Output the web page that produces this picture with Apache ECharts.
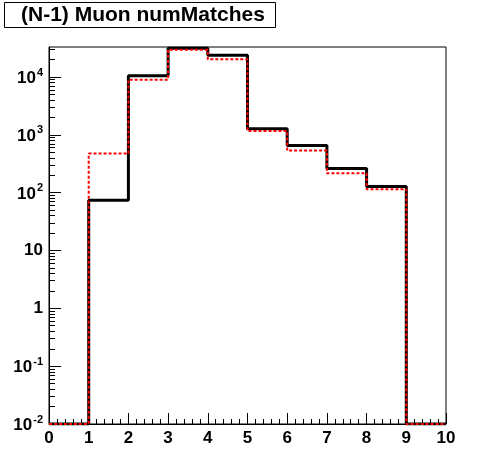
<!DOCTYPE html>
<html>
<head>
<meta charset="utf-8">
<style>
  html, body { margin: 0; padding: 0; background: #fff; }
  #chart { width: 496px; height: 472px; }
</style>
<script src="https://cdn.jsdelivr.net/npm/echarts@6/dist/echarts.min.js"></script>
</head>
<body>
<div id="chart"></div>
<script>
// histogram bins: numMatches 0..10, one unit per bin
var binEdges = [0, 1, 2, 3, 4, 5, 6, 7, 8, 9, 10]
var blackCounts = [0, 74, 10500, 31500, 23700, 1270, 653, 261, 128, 0]
var redCounts = [0, 474, 9000, 29500, 20200, 1160, 535, 217, 115, 0]
var yTicks = [0.01, 0.1, 1, 10, 100, 1000, 10000]
var yMin = 0.01
var yMax = 33000

// minor ticks at 2..9 x 10^n
var yMinor = []
for (var e = -2; e <= 4; e++) {
  for (var k = 2; k <= 9; k++) {
    var v = k * Math.pow(10, e)
    if (v < yMax) yMinor.push(v)
  }
}

// step points: bin value held from left edge to right edge, empty bins sit on the axis floor
function stepData(counts) {
  var pts = []
  for (var i = 0; i < counts.length; i++) {
    pts.push([binEdges[i], Math.max(counts[i], yMin)])
  }
  var last = counts[counts.length - 1]
  pts.push([binEdges[binEdges.length - 1], Math.max(last, yMin)])
  return pts
}

function powLabel(value) {
  var ex = Math.round(Math.log10(value))
  if (ex === 0) return '{b|1}'
  if (ex === 1) return '{b|10}'
  return '{b|10}{s|' + ex + '}'
}

var font = 'Liberation Sans, Arial, sans-serif'
var chart = echarts.init(document.getElementById('chart'), null, { renderer: 'canvas' })

chart.setOption({
  animation: false,
  backgroundColor: '#fff',
  title: {
    text: '(N-1) Muon numMatches',
    left: 4,
    top: 2,
    padding: [3, 11, 2, 17],
    borderColor: '#000',
    borderWidth: 1,
    textStyle: {
      fontFamily: font,
      fontWeight: 'bold',
      fontSize: 21,
      color: '#000'
    }
  },
  grid: {
    left: 49,
    right: 50,
    top: 47,
    bottom: 48,
    show: true,
    borderColor: '#000',
    borderWidth: 1,
    backgroundColor: 'transparent'
  },
  xAxis: {
    type: 'value',
    min: 0,
    max: 10,
    interval: 1,
    axisLine: { lineStyle: { color: '#000', width: 1 } },
    axisTick: { inside: true, length: 11, lineStyle: { color: '#000' } },
    minorTick: { show: true, splitNumber: 5, length: 5, lineStyle: { color: '#000' } },
    splitLine: { show: false },
    axisLabel: {
      color: '#000',
      fontFamily: font,
      fontWeight: 'bold',
      fontSize: 17,
      margin: 6
    }
  },
  yAxis: [
    {
      type: 'log',
      logBase: 10,
      min: yMin,
      max: yMax,
      axisLine: { lineStyle: { color: '#000', width: 1 } },
      axisTick: { inside: true, length: 12, lineStyle: { color: '#000' }, customValues: yTicks },
      splitLine: { show: false },
      axisLabel: {
        customValues: yTicks,
        margin: 6,
        formatter: powLabel,
        rich: {
          b: { fontFamily: font, fontWeight: 'bold', fontSize: 17, color: '#000', verticalAlign: 'bottom' },
          s: { fontFamily: font, fontWeight: 'bold', fontSize: 11, color: '#000', verticalAlign: 'top', padding: [0, 0, 9, 1] }
        }
      }
    },
    {
      type: 'log',
      logBase: 10,
      position: 'left',
      min: yMin,
      max: yMax,
      axisLine: { show: false },
      axisTick: { inside: true, length: 6, lineStyle: { color: '#000' }, customValues: yMinor },
      axisLabel: { show: false },
      splitLine: { show: false }
    }
  ],
  series: [
    {
      name: 'black',
      type: 'line',
      step: 'end',
      symbol: 'none',
      data: stepData(blackCounts),
      lineStyle: { color: '#000', width: 3 },
      z: 2
    },
    {
      name: 'red',
      type: 'line',
      step: 'end',
      symbol: 'none',
      data: stepData(redCounts),
      lineStyle: { color: '#ff0000', width: 2, type: [3, 2] },
      z: 3
    }
  ]
})
</script>
</body>
</html>
